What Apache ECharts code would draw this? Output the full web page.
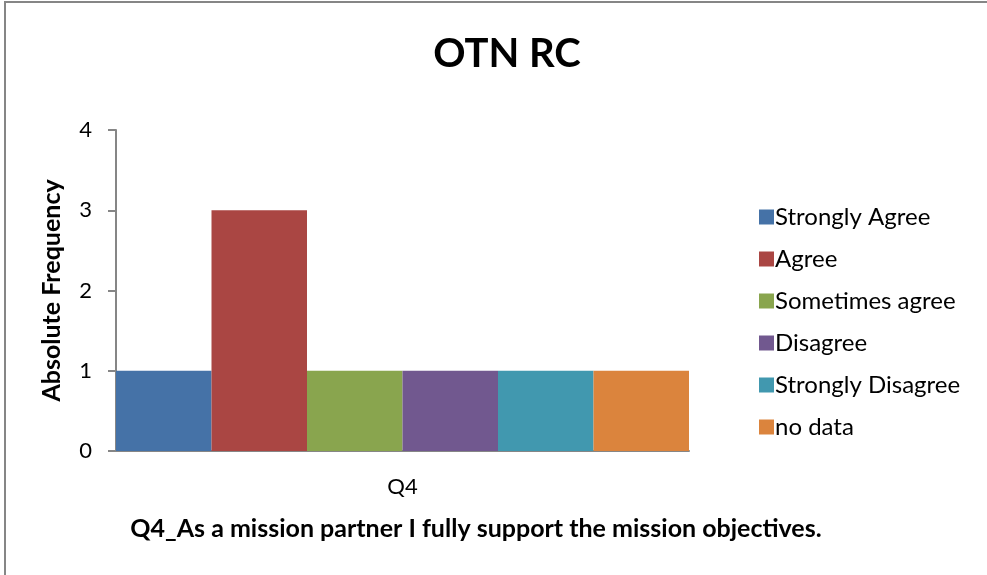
<!DOCTYPE html>
<html>
<head>
<meta charset="utf-8">
<script src="https://cdn.jsdelivr.net/npm/echarts@6/dist/echarts.min.js"></script>
<style>
  html, body { margin: 0; padding: 0; background: #fff; }
  #chart { width: 987px; height: 575px; }
</style>
</head>
<body>
<div id="chart"></div>
<script>
var categories = ["Q4"];
var seriesNames = ["Strongly Agree", "Agree", "Sometimes agree", "Disagree", "Strongly Disagree", "no data"];
var seriesValues = [[1], [3], [1], [1], [1], [1]];
var yTicks = [0, 1, 2, 3, 4];
var colors = ["#4572A7", "#AA4643", "#89A54E", "#71588F", "#4198AF", "#DB843D"];

var font = "Lato, 'Open Sans', sans-serif";
var dom = document.getElementById("chart");
var myChart = echarts.init(dom, null, { renderer: "canvas" });

var series = seriesNames.map(function (name, i) {
  return {
    name: name,
    type: "bar",
    data: seriesValues[i],
    barGap: "0%",
    barCategoryGap: "0%",
    itemStyle: { color: colors[i] }
  };
});

var option = {
  backgroundColor: "#fff",
  animation: false,
  color: colors,
  title: [
    {
      text: "OTN RC",
      left: 502,
      top: 29,
      textAlign: "center",
      textStyle: { fontFamily: font, fontSize: 40, fontWeight: "bold", color: "#000" }
    },
    {
      text: "Q4_As a mission partner I fully support the mission objectives.",
      left: 471,
      top: 511,
      textAlign: "center",
      textStyle: { fontFamily: font, fontSize: 25, fontWeight: "bold", color: "#000" }
    }
  ],
  grid: { left: 116, right: 298, top: 130, bottom: 124, containLabel: false },
  legend: {
    orient: "vertical",
    left: 754,
    top: 200,
    itemWidth: 15,
    itemHeight: 15,
    itemGap: 18,
    icon: "rect",
    data: seriesNames,
    textStyle: { fontFamily: font, fontSize: 24, color: "#000", padding: [0, 0, 0, -4] }
  },
  xAxis: {
    type: "category",
    data: categories,
    axisLine: { lineStyle: { color: "#868686", width: 2 } },
    axisTick: { show: false },
    axisLabel: { fontFamily: font, fontSize: 22, color: "#000", margin: 25 }
  },
  yAxis: {
    type: "value",
    min: yTicks[0],
    max: yTicks[yTicks.length - 1],
    interval: 1,
    name: "Absolute Frequency",
    nameLocation: "middle",
    nameGap: 52,
    nameTextStyle: { fontFamily: font, fontSize: 25, fontWeight: "bold", color: "#000" },
    axisLine: { show: true, lineStyle: { color: "#868686", width: 2 } },
    axisTick: { show: true, length: 8, lineStyle: { color: "#868686", width: 2 } },
    splitLine: { show: false },
    axisLabel: { fontFamily: font, fontSize: 22, color: "#000", margin: 24 }
  },
  graphic: [
    {
      type: "rect",
      shape: { x: 5, y: 2, width: 1000, height: 600 },
      style: { fill: "none", stroke: "#868686", lineWidth: 2 },
      silent: true
    }
  ],
  series: series
};

option && "object" == typeof option && myChart.setOption(option, true);
</script>
</body>
</html>
